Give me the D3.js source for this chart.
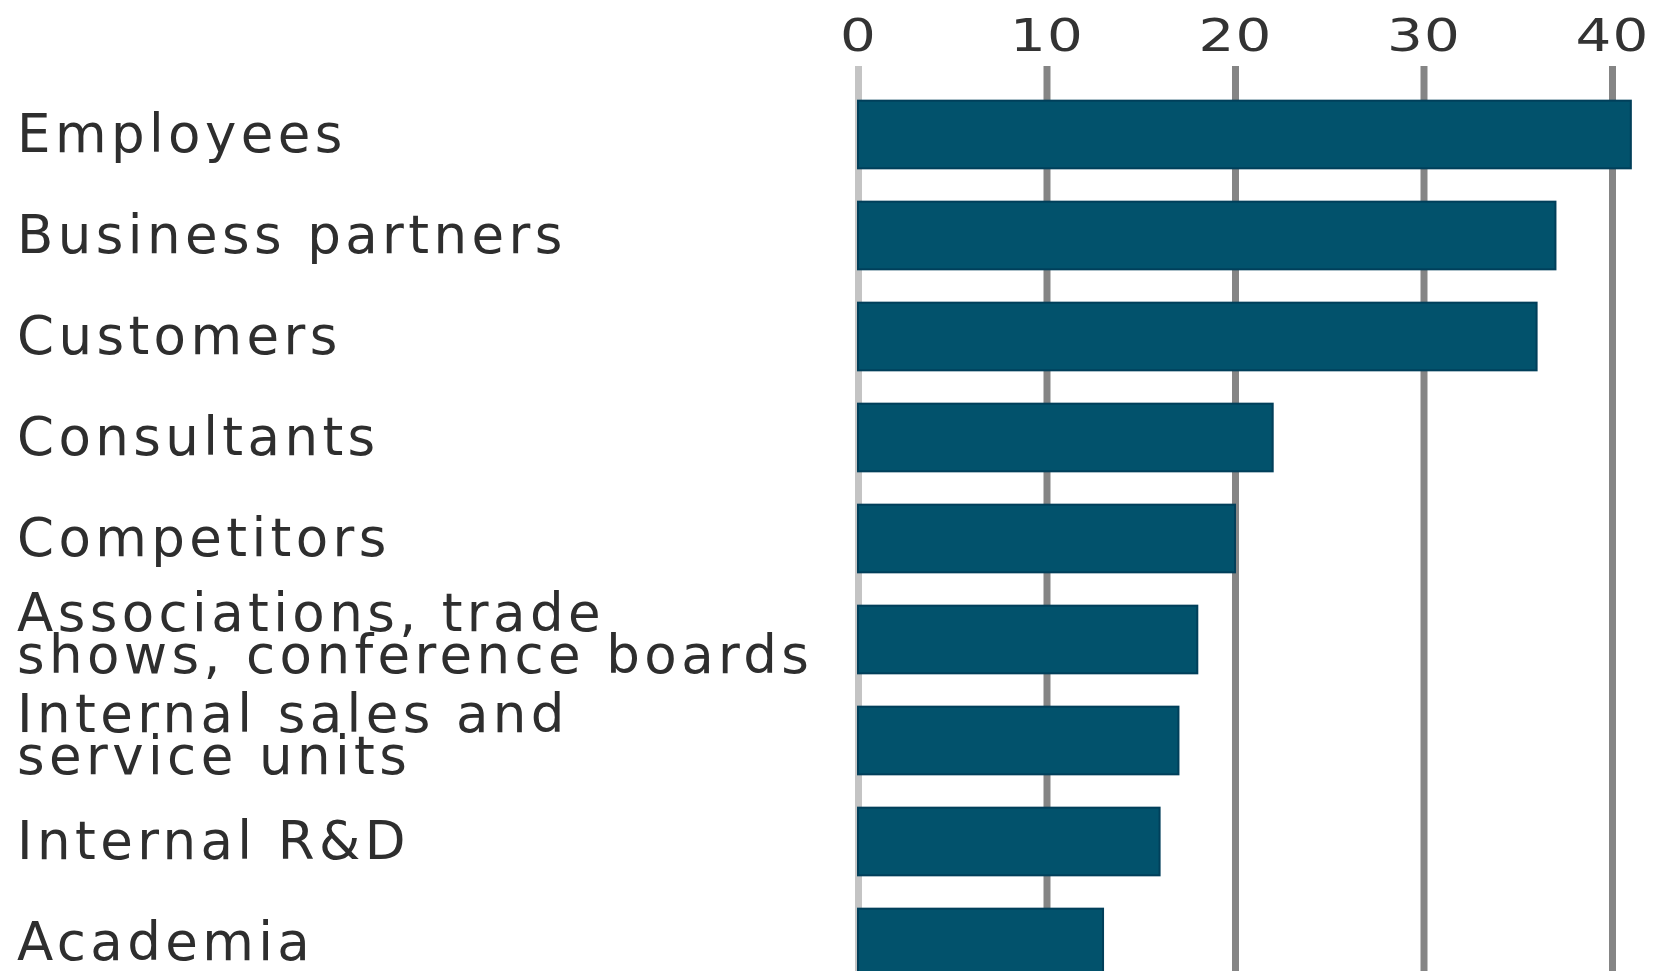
<!DOCTYPE html>
<html>
<head>
<meta charset="utf-8">
<script src="https://cdn.jsdelivr.net/npm/d3@7"></script>
<style>
  html, body { margin: 0; padding: 0; background: #fff; }
  svg { display: block; }
</style>
</head>
<body>
<svg id="chart" width="1657" height="971"></svg>
<script>
// Data
const categories = [
  "Employees",
  "Business partners",
  "Customers",
  "Consultants",
  "Competitors",
  "Associations, trade|shows, conference boards",
  "Internal sales and|service units",
  "Internal R&D",
  "Academia"
];
const values = [41, 37, 36, 22, 20, 18, 17, 16, 13];
const tickValues = [0, 10, 20, 30, 40];

const W = 1657, H = 971;
const svg = d3.select("#chart");

const x = d3.scaleLinear().domain([0, 40]).range([858, 1612]);
const y = d3.scaleBand().domain(categories).range([84, 993]).paddingInner(0.33).paddingOuter(0.165);

const axisTopY = 66;
const axis = d3.axisTop(x)
  .tickValues(tickValues)
  .tickFormat(d3.format("d"))
  .tickSize(-(H - axisTopY))
  .tickPadding(15);

const ag = svg.append("g")
  .attr("transform", `translate(0,${axisTopY})`)
  .call(axis);
ag.select(".domain").remove();
ag.selectAll(".tick line")
  .attr("stroke", d => d === 0 ? "#c4c4c4" : "#858585")
  .attr("stroke-width", 7);
ag.selectAll(".tick text")
  .attr("fill", "#333")
  .attr("transform", "scale(1.28,1)")
  .style("font-family", "'DejaVu Sans', sans-serif")
  .style("font-size", "44px")
  .style("letter-spacing", "1px");

// Bars
svg.append("g").selectAll("rect")
  .data(categories)
  .join("rect")
  .attr("x", x(0))
  .attr("y", d => y(d))
  .attr("width", (d, i) => x(values[i]) - x(0))
  .attr("height", y.bandwidth())
  .attr("fill", "#02526c")
  .attr("stroke", "#013f5a")
  .attr("stroke-width", 2);

// Labels
const lg = svg.append("g")
  .style("font-family", "'DejaVu Sans', sans-serif")
  .style("font-size", "53px")
  .style("letter-spacing", "4.4px")
  .attr("fill", "#2e2e2e");

categories.forEach(c => {
  const lines = c.split("|");
  const cy = y(c) + y.bandwidth() / 2;
  const t = lg.append("text").attr("x", 17);
  if (lines.length === 1) {
    t.attr("y", cy + 17).text(lines[0]);
  } else {
    lines.forEach((ln, j) => {
      t.append("tspan").attr("x", 17).attr("y", cy - 9 + j * 42).text(ln);
    });
  }
});
</script>
</body>
</html>
